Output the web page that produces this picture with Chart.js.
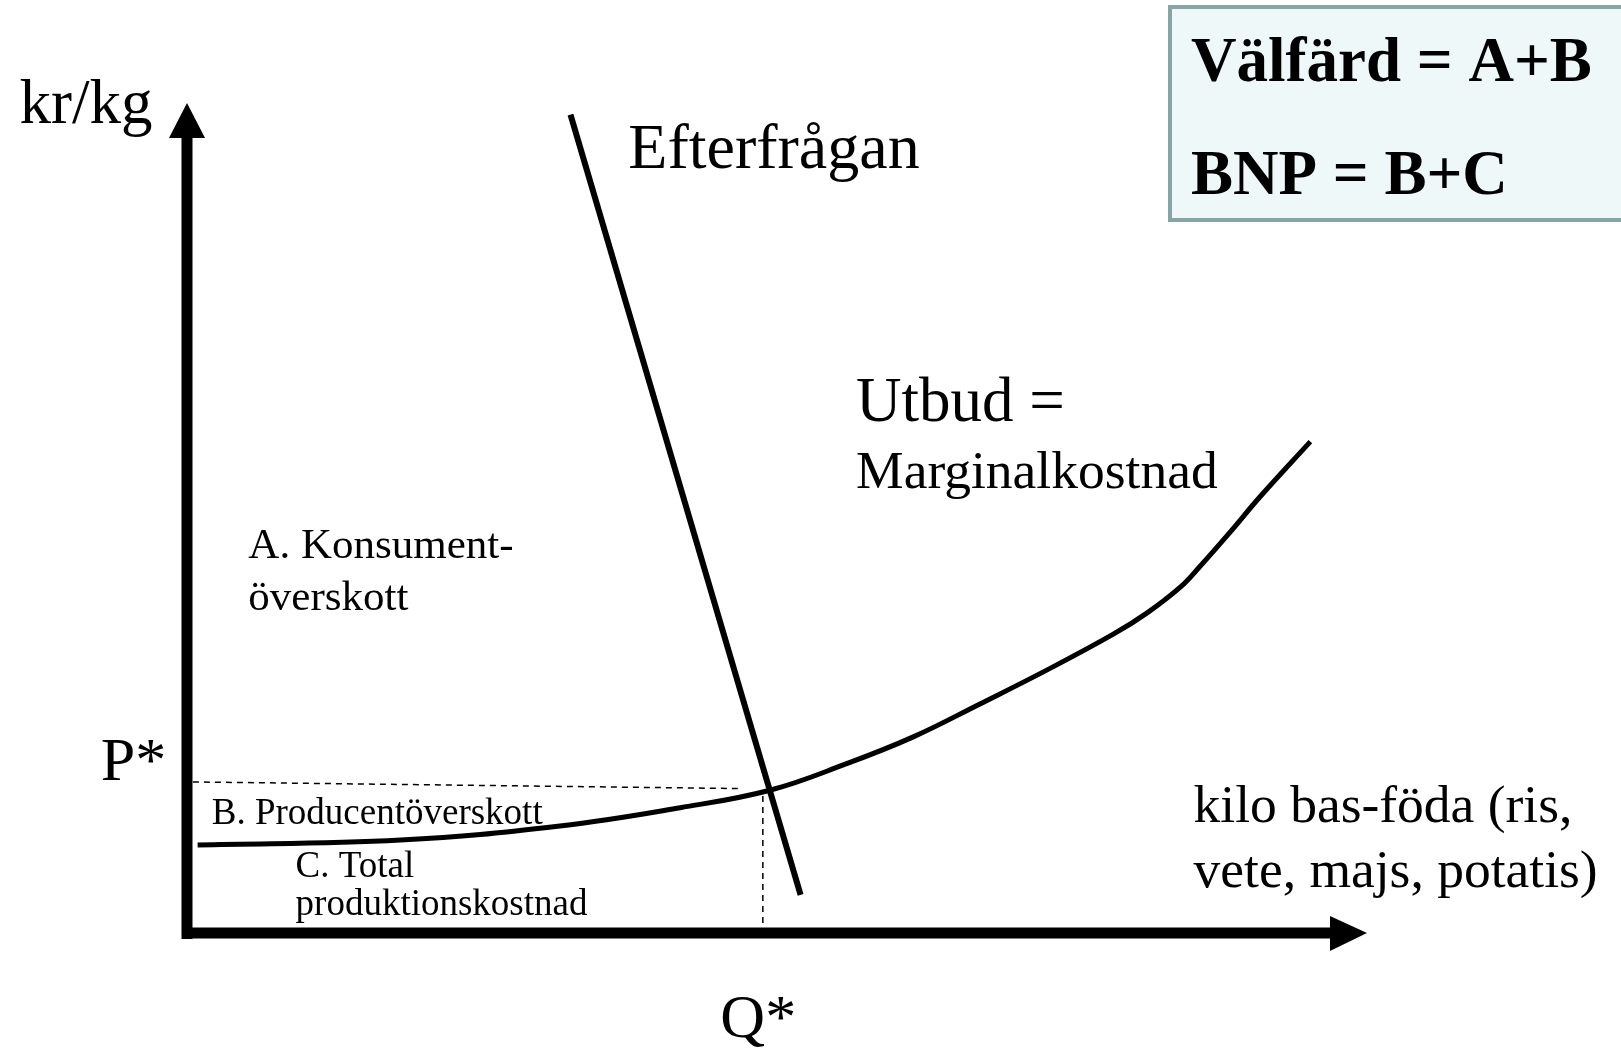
<!DOCTYPE html>
<html>
<head>
<meta charset="utf-8">
<script src="https://cdn.jsdelivr.net/npm/chart.js@4.4.1/dist/chart.umd.min.js"></script>
<style>
  html, body { margin: 0; padding: 0; background: #fff; }
  canvas { display: block; }
</style>
</head>
<body>
<canvas id="chart" width="1621" height="1048"></canvas>
<script>
// quantity (x) and price (y) on a 0-100 scale, origin where the axes meet
const demandQ = [32.5, 52.0];
const demandP = [98.6, 4.6];

const supplyQ = [0.9, 18.1, 31.6, 41.8, 49.4, 55.9, 61.5, 67.2, 72.9, 78.5, 81.4, 84.2, 85.8, 88.4, 90.9, 95.2];
const supplyP = [10.6, 11.2, 12.9, 15.1, 17.2, 20.4, 23.6, 27.6, 31.7, 36.0, 38.6, 41.7, 44.1, 48.3, 52.5, 59.2];

// equilibrium guides
const priceGuideQ = [0.5, 47.0];
const priceGuideP = [18.2, 17.4];
const qtyGuideQ = [48.8, 48.8];
const qtyGuideP = [16.5, 0.4];

const labelTexts = [
  'kr/kg', 'P*', 'Q*', 'Efterfrågan', 'Utbud =', 'Marginalkostnad',
  'A. Konsument-', 'överskott', 'B. Producentöverskott', 'C. Total',
  'produktionskostnad', 'kilo bas-föda (ris,', 'vete, majs, potatis)'
];
const boxLines = ['Välfärd = A+B', 'BNP = B+C'];

const serif = "'Liberation Serif', 'Times New Roman', serif";

// where each label sits (data units) and how big it is
const labelPlaces = [
  { x: -14.2, y: 97.6, size: 63 },
  { x: -7.3, y: 18.4, size: 62 },
  { x: 45.2, y: -12.5, size: 62 },
  { x: 37.4, y: 92.2, size: 64 },
  { x: 56.7, y: 61.7, size: 63 },
  { x: 56.7, y: 53.6, size: 53.5 },
  { x: 5.2, y: 45.2, size: 43 },
  { x: 5.2, y: 38.9, size: 43 },
  { x: 2.1, y: 13.1, size: 37 },
  { x: 9.2, y: 6.8, size: 37 },
  { x: 9.2, y: 2.2, size: 37 },
  { x: 85.3, y: 13.4, size: 53.5 },
  { x: 85.3, y: 5.5, size: 53.5 }
];

function pts(xs, ys) {
  return xs.map((x, i) => ({ x: x, y: ys[i] }));
}

const diagram = {
  id: 'diagram',
  beforeDatasetsDraw(chart) {
    const ctx = chart.ctx;
    const xs = chart.scales.x, ys = chart.scales.y;
    const x0 = xs.getPixelForValue(0), y0 = ys.getPixelForValue(0);
    const xEnd = xs.getPixelForValue(100), yEnd = ys.getPixelForValue(100);
    ctx.save();
    ctx.strokeStyle = '#000';
    ctx.fillStyle = '#000';
    ctx.lineWidth = 11;
    // price axis
    ctx.beginPath();
    ctx.moveTo(x0, y0 + 6);
    ctx.lineTo(x0, yEnd + 30);
    ctx.stroke();
    ctx.beginPath();
    ctx.moveTo(x0, yEnd);
    ctx.lineTo(x0 - 18, yEnd + 35);
    ctx.lineTo(x0 + 18, yEnd + 35);
    ctx.closePath();
    ctx.fill();
    // quantity axis
    ctx.beginPath();
    ctx.moveTo(x0 - 5, y0);
    ctx.lineTo(xEnd - 30, y0);
    ctx.stroke();
    ctx.beginPath();
    ctx.moveTo(xEnd, y0);
    ctx.lineTo(xEnd - 37, y0 - 17);
    ctx.lineTo(xEnd - 37, y0 + 18);
    ctx.closePath();
    ctx.fill();
    ctx.restore();
  },
  afterDraw(chart) {
    const ctx = chart.ctx;
    const xs = chart.scales.x, ys = chart.scales.y;
    ctx.save();
    ctx.fillStyle = '#000';
    ctx.textBaseline = 'alphabetic';
    ctx.textAlign = 'left';
    labelTexts.forEach((t, i) => {
      const p = labelPlaces[i];
      ctx.font = p.size + 'px ' + serif;
      ctx.fillText(t, xs.getPixelForValue(p.x), ys.getPixelForValue(p.y));
    });

    // summary box, top right
    ctx.fillStyle = '#eff8f8';
    ctx.fillRect(1168, 5, 470, 217);
    ctx.strokeStyle = '#88a4a4';
    ctx.lineWidth = 4;
    ctx.strokeRect(1170, 7, 470, 213);
    ctx.fillStyle = '#000';
    ctx.font = 'bold 63px ' + serif;
    ctx.fillText(boxLines[0], 1191, 81);
    ctx.fillText(boxLines[1], 1191, 194);
    ctx.restore();
  }
};

new Chart(document.getElementById('chart'), {
  type: 'scatter',
  data: {
    datasets: [
      {
        label: 'Efterfrågan',
        data: pts(demandQ, demandP),
        showLine: true,
        borderColor: '#000',
        borderWidth: 6,
        pointRadius: 0
      },
      {
        label: 'Utbud',
        data: pts(supplyQ, supplyP),
        showLine: true,
        borderColor: '#000',
        borderWidth: 5,
        pointRadius: 0,
        tension: 0.4
      },
      {
        label: 'P*',
        data: pts(priceGuideQ, priceGuideP),
        showLine: true,
        borderColor: '#000',
        borderWidth: 1.5,
        borderDash: [6, 5],
        pointRadius: 0
      },
      {
        label: 'Q*',
        data: pts(qtyGuideQ, qtyGuideP),
        showLine: true,
        borderColor: '#000',
        borderWidth: 1.5,
        borderDash: [6, 5],
        pointRadius: 0
      }
    ]
  },
  options: {
    responsive: false,
    devicePixelRatio: 1,
    animation: false,
    clip: false,
    layout: { padding: { left: 187, right: 254, top: 103, bottom: 115 } },
    plugins: { legend: { display: false }, tooltip: { enabled: false } },
    scales: {
      x: { type: 'linear', min: 0, max: 100, display: false },
      y: { type: 'linear', min: 0, max: 100, display: false }
    }
  },
  plugins: [diagram]
});
</script>
</body>
</html>
